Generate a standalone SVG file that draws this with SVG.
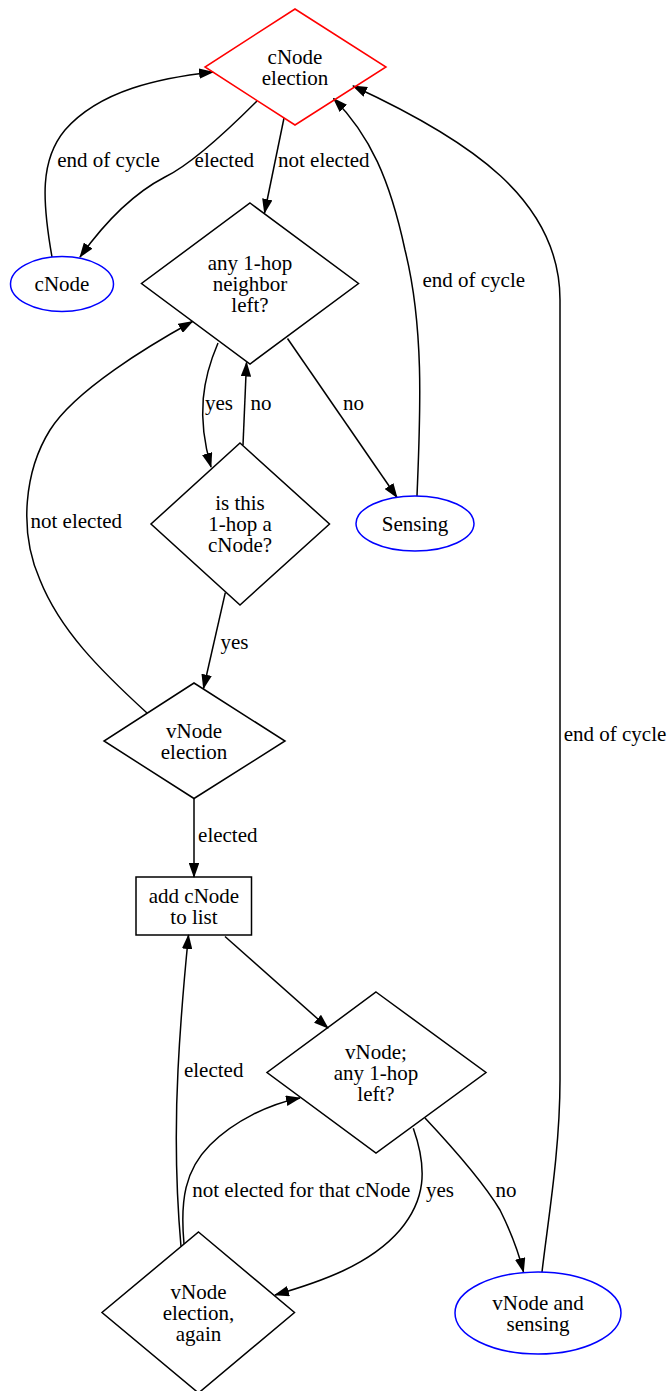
<svg xmlns="http://www.w3.org/2000/svg" width="670" height="1391" viewBox="0 0 670 1391">
<style>
text{font-family:"Liberation Serif","Times New Roman",serif;font-size:21px;text-anchor:middle;fill:#000}
.n{fill:none;stroke:#000;stroke-width:1.5}
.red{stroke:#ff0000}
.blue{stroke:#0000ff}
.e{fill:none;stroke:#000;stroke-width:1.5;marker-end:url(#ah)}
</style>
<defs>
<marker id="ah" viewBox="0 0 15 10.5" refX="14" refY="5.25" markerWidth="15" markerHeight="10.5" markerUnits="userSpaceOnUse" orient="auto">
<path d="M0,0 L15,5.25 L0,10.5 z" fill="#000"/>
</marker>
</defs>
<rect width="670" height="1391" fill="#fff"/>
<g id="connectors">
<path class="e" d="M257,101 C225,133 190,165 165,177 C140,190 110,215 80,257"/>
<text x="224.3" y="167">elected</text>
<path class="e" d="M52,257 C42,200 40,160 65,130 C100,90 160,78 213,72"/>
<text x="108.6" y="167">end of cycle</text>
<path class="e" d="M284,118 L264.5,213"/>
<text x="323.8" y="167">not elected</text>
<path class="e" d="M417,496 C420,420 425,330 405,250 C390,180 370,135 333.5,98.5"/>
<text x="473.8" y="287">end of cycle</text>
<path class="e" d="M542,1272 C548,1220 560,1150 560,1080 L560,300 C560,200 470,140 353,86"/>
<text x="615" y="741">end of cycle</text>
<path class="e" d="M218,343 C203,378 196,415 211,467"/>
<text x="219" y="410">yes</text>
<path class="e" d="M243,445 L246.5,362.5"/>
<text x="261" y="410">no</text>
<path class="e" d="M287.5,338.5 L397,497.5"/>
<text x="353.5" y="410">no</text>
<path class="e" d="M225.3,592.7 L203.5,688.5"/>
<text x="234.5" y="649">yes</text>
<path class="e" d="M147,713 C100,670 60,630 40,580 C18,530 25,470 50,430 C75,390 150,345 192.5,321.5"/>
<text x="76.3" y="528">not elected</text>
<path class="e" d="M194,798.5 L194,877"/>
<text x="227.8" y="842">elected</text>
<path class="e" d="M225,936.5 L328,1028"/>
<path class="e" d="M413.3,1128.3 C428,1170 425,1200 400,1230 C370,1265 320,1282 275,1295"/>
<text x="440" y="1197">yes</text>
<path class="e" d="M425,1118 C455,1150 485,1185 500,1210 C510,1230 518,1250 523.5,1272"/>
<text x="506" y="1197">no</text>
<path class="e" d="M184,1244 C180,1200 185,1170 210,1145 C235,1120 270,1104 300,1098"/>
<text x="301.2" y="1197">not elected for that cNode</text>
<path class="e" d="M181,1246.5 C176,1190 175,1130 178,1070 C180,1030 184,980 188.5,935"/>
<text x="213.7" y="1077">elected</text>
</g>
<g id="cnode_election">
<polygon class="n red" points="295,9 386,67 295,125 205,67"/>
<text x="295" y="63.5">cNode</text>
<text x="295" y="84.5">election</text>
</g>
<g id="cnode">
<ellipse class="n blue" cx="62" cy="284" rx="51.5" ry="27.5"/>
<text x="62" y="291">cNode</text>
</g>
<g id="any_neighbor">
<polygon class="n" points="250,203 358.5,283.5 250,364 141.5,283.5"/>
<text x="250" y="269.5">any 1-hop</text>
<text x="250" y="290.5">neighbor</text>
<text x="250" y="311.5">left?</text>
</g>
<g id="is_cnode">
<polygon class="n" points="240,443 329.5,524 240,605 151,524"/>
<text x="240" y="510">is this</text>
<text x="240" y="531">1-hop a</text>
<text x="240" y="552">cNode?</text>
</g>
<g id="sensing">
<ellipse class="n blue" cx="415" cy="523.5" rx="59" ry="27.5"/>
<text x="415" y="530.5">Sensing</text>
</g>
<g id="vnode_election">
<polygon class="n" points="194,683 285,741 194,798.5 104,741"/>
<text x="194" y="737.5">vNode</text>
<text x="194" y="758.5">election</text>
</g>
<g id="add_cnode">
<rect class="n" x="136" y="877" width="115.5" height="58"/>
<text x="194" y="902.5">add cNode</text>
<text x="194" y="923.5">to list</text>
</g>
<g id="vnode_any">
<polygon class="n" points="376,992 486,1072.5 376,1153 267,1072.5"/>
<text x="376" y="1058.5">vNode;</text>
<text x="376" y="1079.5">any 1-hop</text>
<text x="376" y="1100.5">left?</text>
</g>
<g id="vnode_election_again">
<polygon class="n" points="198.5,1232 294.5,1312.5 198.5,1393 102,1312.5"/>
<text x="198.5" y="1298.5">vNode</text>
<text x="198.5" y="1319.5">election,</text>
<text x="198.5" y="1340.5">again</text>
</g>
<g id="vnode_sensing">
<ellipse class="n blue" cx="538" cy="1313" rx="83" ry="41"/>
<text x="538" y="1309.5">vNode and</text>
<text x="538" y="1330.5">sensing</text>
</g>
</svg>
